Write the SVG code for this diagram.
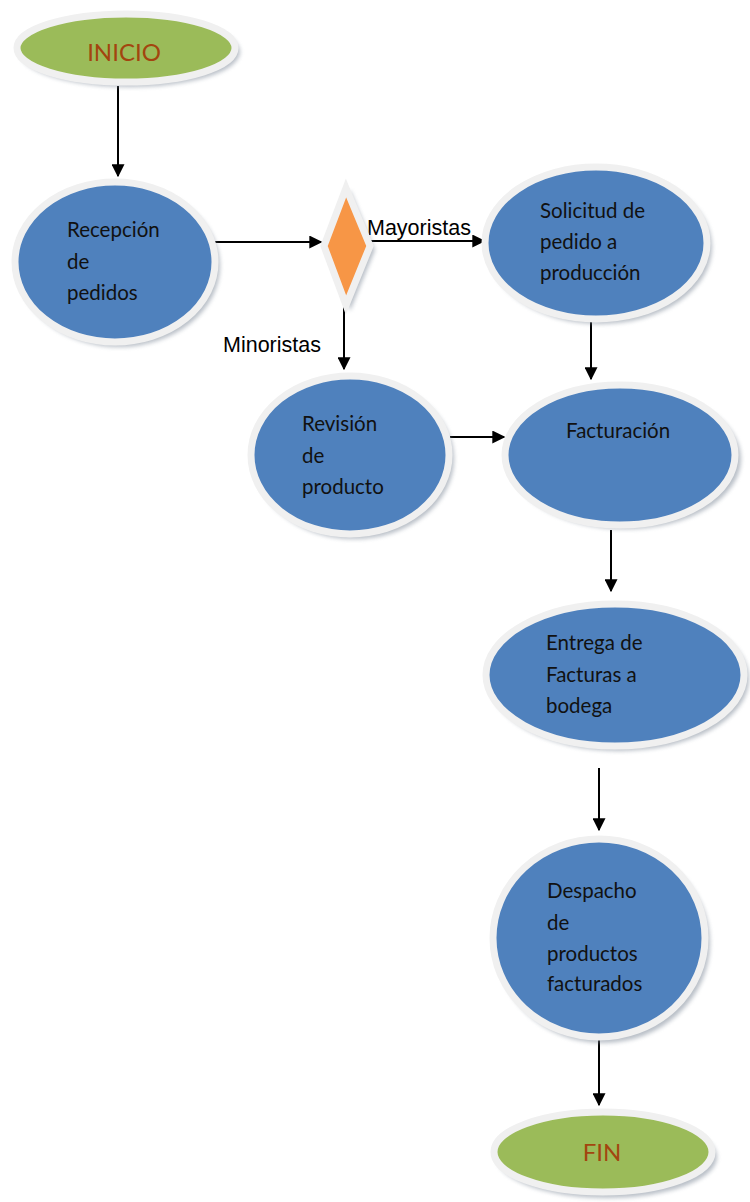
<svg xmlns="http://www.w3.org/2000/svg" width="750" height="1202" viewBox="0 0 750 1202">
<style>
.term{fill:#9bbb59;stroke:#f0f0f0;stroke-width:7}
.proc{fill:#4f81bd;stroke:#f0f0f0;stroke-width:7}
.dec{fill:#f79646;stroke:#f0f0f0;stroke-width:7}
.sh{fill:#7f8a99;opacity:0.55;filter:url(#blur)}
.tt{font-family:Lato,"Open Sans",sans-serif;font-size:24px;fill:#a3450f}
.pt{font-family:Lato,"Open Sans",sans-serif;font-size:20.5px;fill:#111}
.lbl{font-family:"Liberation Sans",Arial,sans-serif;font-size:21.5px;fill:#000}
.ln{stroke:#000;stroke-width:2;fill:none;marker-end:url(#ah)}
</style>
<defs>
<filter id="blur" x="-20%" y="-20%" width="140%" height="140%"><feGaussianBlur stdDeviation="2"/></filter>
<marker id="ah" viewBox="0 0 10 10" refX="9" refY="5" markerWidth="6.5" markerHeight="6.5" orient="auto" markerUnits="strokeWidth"><path d="M0,0 L10,5 L0,10 z" fill="#000"/></marker>
</defs>
<g id="connectors">
<line class="ln" x1="118" y1="86" x2="118" y2="176"/>
<line class="ln" x1="215" y1="242" x2="321" y2="242"/>
<line class="ln" x1="370" y1="241" x2="484" y2="241"/>
<line class="ln" x1="344" y1="307" x2="344" y2="369"/>
<line class="ln" x1="591" y1="318" x2="591" y2="379"/>
<line class="ln" x1="450" y1="437" x2="504" y2="437"/>
<line class="ln" x1="611" y1="530" x2="611" y2="591"/>
<line class="ln" x1="599" y1="768" x2="599" y2="830"/>
<line class="ln" x1="599" y1="1037" x2="599" y2="1105"/>
<text class="lbl" x="367" y="235">Mayoristas</text>
<text class="lbl" x="223" y="352">Minoristas</text>
</g>
<g id="inicio">
<ellipse class="sh" cx="130" cy="52" rx="110" ry="35"/>
<ellipse class="term" cx="126" cy="48" rx="109" ry="34"/>
<text class="tt" x="124" y="61" text-anchor="middle">INICIO</text>
</g>
<g id="recepcion">
<ellipse class="sh" cx="119" cy="266" rx="101" ry="81"/>
<ellipse class="proc" cx="115" cy="262" rx="100" ry="80"/>
<text class="pt" x="67" y="237">Recepción</text>
<text class="pt" x="67" y="269">de</text>
<text class="pt" x="67" y="300">pedidos</text>
</g>
<g id="decision">
<polygon class="sh" points="350,190 375,250 350,311 327,250"/>
<polygon class="dec" points="346,188 370,246 346,305 324,246"/>
</g>
<g id="solicitud">
<ellipse class="sh" cx="600" cy="247" rx="112" ry="77"/>
<ellipse class="proc" cx="596" cy="243" rx="111" ry="76"/>
<text class="pt" x="540" y="218">Solicitud de</text>
<text class="pt" x="540" y="249">pedido a</text>
<text class="pt" x="540" y="280">producción</text>
</g>
<g id="revision">
<ellipse class="sh" cx="354" cy="459" rx="100" ry="80"/>
<ellipse class="proc" cx="350" cy="455" rx="99" ry="79"/>
<text class="pt" x="302" y="431">Revisión</text>
<text class="pt" x="302" y="463">de</text>
<text class="pt" x="302" y="494">producto</text>
</g>
<g id="facturacion">
<ellipse class="sh" cx="625" cy="459" rx="116" ry="70"/>
<ellipse class="proc" cx="620" cy="455" rx="115" ry="70"/>
<text class="pt" x="566" y="438">Facturación</text>
</g>
<g id="entrega">
<ellipse class="sh" cx="619" cy="679" rx="130" ry="72"/>
<ellipse class="proc" cx="615" cy="675" rx="129" ry="71"/>
<text class="pt" x="546" y="650">Entrega de</text>
<text class="pt" x="546" y="682">Facturas a</text>
<text class="pt" x="546" y="713">bodega</text>
</g>
<g id="despacho">
<ellipse class="sh" cx="603" cy="943" rx="107" ry="100"/>
<ellipse class="proc" cx="599" cy="938" rx="106" ry="99"/>
<text class="pt" x="547" y="898">Despacho</text>
<text class="pt" x="547" y="930">de</text>
<text class="pt" x="547" y="961">productos</text>
<text class="pt" x="547" y="991">facturados</text>
</g>
<g id="fin">
<ellipse class="sh" cx="607" cy="1157" rx="110" ry="41"/>
<ellipse class="term" cx="603" cy="1152" rx="109" ry="40"/>
<text class="tt" x="602" y="1161" text-anchor="middle">FIN</text>
</g>
</svg>
